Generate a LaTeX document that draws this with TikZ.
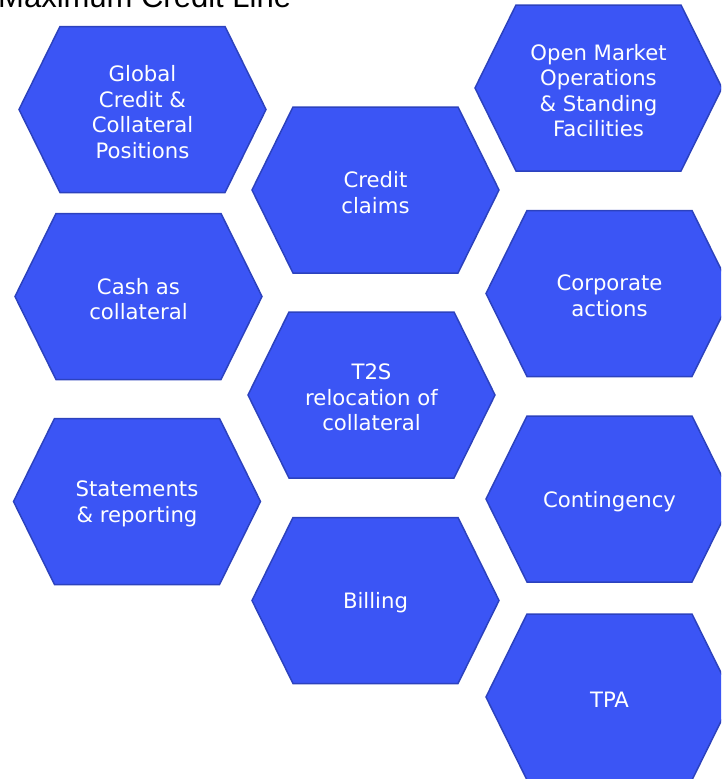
\documentclass[tikz,border=0pt]{standalone}
\usepackage{fontspec}
\setmainfont{DejaVu Sans}
\newfontfamily\titlefont{Liberation Sans}
\usepackage{tikz}

\definecolor{cellblue}{RGB}{59,85,245}
\definecolor{celledge}{RGB}{44,66,190}

\tikzset{
  cell/.style={fill=cellblue,draw=celledge,line width=1.5pt,line join=miter},
  celltext/.style={text=white,align=center,inner sep=0pt,yshift=-2.5pt,
    font=\fontsize{21.2}{25.5}\selectfont},
}

% one hexagon with its label node
\newcommand{\hexcell}[4]{%
  \draw[cell] (#2,#3) ++(-123.5,0) -- ++(41,-83) -- ++(165,0) -- ++(41,83)
    -- ++(-41,83) -- ++(-165,0) -- cycle;
  \node[celltext] (#1) at (#2,#3) {#4};
}

\begin{document}
\begin{tikzpicture}[x=1pt,y=-1pt]
  \clip (0,0) rectangle (721,779);
  \node[anchor=base west,inner sep=0pt,font=\titlefont\fontsize{31}{36}\selectfont]
    (title) at (-2,8) {Maximum Credit Line};
  % left column
  \hexcell{global}{142.5}{109.5}{Global\\Credit \&\\Collateral\\Positions}
  \hexcell{cash}{138.5}{296.5}{Cash as\\collateral}
  \hexcell{statements}{137}{501.5}{Statements\\\& reporting}
  % middle column
  \hexcell{claims}{375.5}{190}{Credit\\claims}
  \hexcell{relocation}{371.5}{395}{T2S\\relocation of\\collateral}
  \hexcell{billing}{375.5}{600.5}{Billing}
  % right column
  \hexcell{omo}{598.5}{88}{Open Market\\Operations\\\& Standing\\Facilities}
  \hexcell{corporate}{609.5}{293.5}{Corporate\\actions}
  \hexcell{contingency}{609.5}{499}{Contingency}
  \hexcell{tpa}{609.5}{697}{TPA}
\end{tikzpicture}
\end{document}
